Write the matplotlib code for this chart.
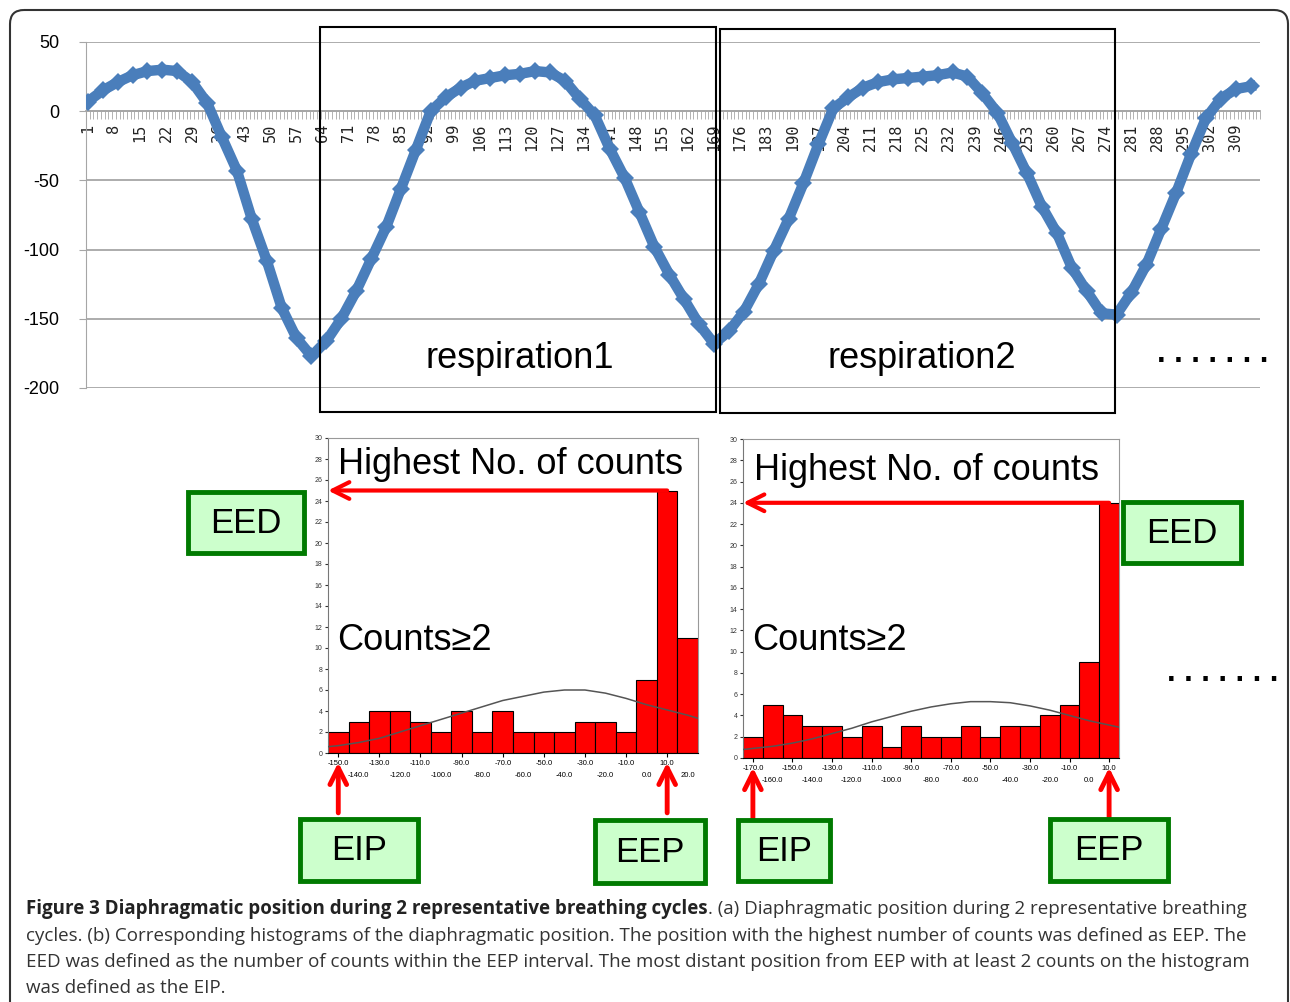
import matplotlib
matplotlib.use('Agg')
import matplotlib.pyplot as plt
import numpy as np
from matplotlib.patches import Rectangle, FancyBboxPatch

plt.rcParams['axes.unicode_minus'] = False
plt.rcParams['font.family'] = 'Liberation Sans'

W, H = 1290, 1002

# diaphragm position, read every 4th sample
samples = np.arange(1, 316, 4)
position = [7, 15, 21, 26, 29, 30, 29, 21, 6, -19,
            -43, -78, -108, -142, -164, -177, -166, -150, -130, -107,
            -84, -56, -28, 0, 10, 17, 22, 24, 26, 27,
            29, 28, 22, 9, -3, -27, -48, -73, -98, -118,
            -136, -154, -168, -159, -145, -125, -101, -78, -52, -24,
            2, 10, 17, 21, 23, 24, 25, 26, 28, 25,
            13, -1, -23, -45, -69, -88, -113, -130, -146, -147,
            -131, -111, -85, -59, -31, -5, 9, 16, 18]
n_samples = 315

# histograms
h1_centers = np.arange(-150, 30, 10)
h1_counts = [2, 3, 4, 4, 3, 2, 4, 2, 4, 2, 2, 2, 3, 3, 2, 7, 25, 11]
h1_curve_x = [-155, -150, -140, -130, -120, -110, -100, -90, -80, -70, -60,
              -50, -40, -30, -20, -10, 0, 10, 20, 25]
h1_curve_y = [0.6, 0.7, 1.0, 1.4, 2.0, 2.6, 3.2, 3.8, 4.4, 5.0, 5.4,
              5.8, 6.0, 6.0, 5.7, 5.2, 4.6, 4.1, 3.6, 3.3]

h2_centers = np.arange(-170, 20, 10)
h2_counts = [2, 5, 4, 3, 3, 2, 3, 1, 3, 2, 2, 3, 2, 3, 3, 4, 5, 9, 24]
h2_curve_x = [-175, -170, -160, -150, -140, -130, -120, -110, -100, -90, -80,
              -70, -60, -50, -40, -30, -20, -10, 0, 10, 15]
h2_curve_y = [0.8, 0.9, 1.1, 1.4, 1.8, 2.3, 2.8, 3.4, 3.9, 4.4, 4.8,
              5.1, 5.3, 5.3, 5.2, 4.9, 4.5, 4.0, 3.5, 3.1, 2.9]


def px_axes(l, t, r, b):
    return fig.add_axes([l / W, 1 - b / H, (r - l) / W, (b - t) / H])


fig = plt.figure(figsize=(W / 100, H / 100), dpi=100)

# ---- top chart
ax = px_axes(86, 42, 1260, 388)
ax.plot(samples, position, color='#4a7ebb', lw=7.5, marker='D', ms=9,
        markeredgewidth=0, zorder=3)
ax.set_xlim(0.5, n_samples + 0.5)
ax.set_ylim(-200, 50)
ax.set_yticks(range(-200, 51, 50))
ax.yaxis.grid(True, color='#a6a6a6', lw=1.3)
ax.set_axisbelow(True)
for s in ['top', 'right']:
    ax.spines[s].set_visible(False)
ax.spines['left'].set_color('#a6a6a6')
ax.spines['bottom'].set_position(('data', 0))
ax.spines['bottom'].set_color('#a6a6a6')
ax.spines['bottom'].set_linewidth(1.3)
ax.set_xticks(np.arange(1, n_samples + 1, 7))
ax.set_xticklabels([str(v) for v in np.arange(1, n_samples + 1, 7)],
                   rotation=90, family='DejaVu Sans Mono', fontsize=11)
ax.set_xticks(np.arange(0.5, n_samples + 1, 1), minor=True)
ax.tick_params(axis='x', which='major', length=0, pad=9, colors='#222')
ax.tick_params(axis='x', which='minor', length=6, color='#a6a6a6')
ax.tick_params(axis='y', length=5, color='#a6a6a6', labelsize=13, pad=14)


# ---- histograms
def histo(ax, centers, counts, cx, cy):
    ax.bar(centers, counts, width=10, color='#ff0000', edgecolor='black',
           lw=0.8, zorder=2)
    ax.plot(cx, cy, color='#555555', lw=1.1, zorder=3)
    ax.set_xlim(centers[0] - 5, centers[-1] + 5)
    ax.set_ylim(0, 30)
    ax.set_yticks(range(0, 31, 2))
    ax.tick_params(axis='y', labelsize=5, length=2, pad=2, colors='#333')
    ax.set_xticks(centers[::2])
    ax.set_xticklabels([f'{v:.1f}' for v in centers[::2]])
    ax.set_xticks(centers[1::2], minor=True)
    ax.set_xticklabels([f'{v:.1f}' for v in centers[1::2]], minor=True)
    ax.tick_params(axis='x', which='major', labelsize=5.5, length=3, pad=2)
    ax.tick_params(axis='x', which='minor', labelsize=5.5, length=0, pad=14)
    for s in ['top', 'right']:
        ax.spines[s].set_color('#999999')
    ax.spines['left'].set_color('#777777')
    i = int(np.argmax(counts))
    top = counts[i]
    ax.annotate('', xy=(centers[0] - 5, top), xytext=(centers[i], top),
                arrowprops=dict(arrowstyle='->', color='red', lw=3,
                                mutation_scale=30, shrinkA=0, shrinkB=0),
                annotation_clip=False, zorder=5)
    for x in (centers[0], centers[i]):
        ax.annotate('', xy=(x, -0.03), xycoords=('data', 'axes fraction'),
                    xytext=(x, -0.19), textcoords=('data', 'axes fraction'),
                    arrowprops=dict(arrowstyle='->', color='red', lw=3.5,
                                    mutation_scale=30, shrinkA=0, shrinkB=0),
                    annotation_clip=False)


h1 = px_axes(328, 438, 698, 753)
histo(h1, h1_centers, h1_counts, h1_curve_x, h1_curve_y)
h2 = px_axes(743, 439, 1119, 758)
histo(h2, h2_centers, h2_counts, h2_curve_x, h2_curve_y)

# ---- overlay in pixel coords
ov = fig.add_axes([0, 0, 1, 1])
ov.set_xlim(0, W)
ov.set_ylim(H, 0)
ov.axis('off')

ov.add_patch(FancyBboxPatch((10, 10), 1278, 1040,
                            boxstyle='round,pad=0,rounding_size=14',
                            fill=False, ec='#333333', lw=1.5, clip_on=False))
ov.add_patch(Rectangle((320, 27), 396, 385, fill=False, ec='black', lw=1.5))
ov.add_patch(Rectangle((720, 29), 395, 384, fill=False, ec='black', lw=1.5))
ov.text(520, 358, 'respiration1', fontsize=26, ha='center', va='center')
ov.text(922, 358, 'respiration2', fontsize=26, ha='center', va='center')
ov.text(1213, 354, '. . . . . . .', fontsize=22, weight='bold',
        ha='center', va='center')
ov.text(1223, 673, '. . . . . . .', fontsize=22, weight='bold',
        ha='center', va='center')

ov.text(510, 465, 'Highest No. of counts', fontsize=26, ha='center',
        va='center')
ov.text(927, 470, 'Highest No. of counts', fontsize=26, ha='center',
        va='center')
ov.text(337, 641, 'Counts≥2', fontsize=26, ha='left', va='center')
ov.text(752, 641, 'Counts≥2', fontsize=26, ha='left', va='center')

boxes = [((188, 492, 304, 553), 'EED'), ((1123, 502, 1241, 563), 'EED'),
         ((300, 819, 418, 881), 'EIP'), ((595, 820, 705, 883), 'EEP'),
         ((738, 820, 830, 881), 'EIP'), ((1050, 819, 1168, 881), 'EEP')]
for (l, t, r, b), lab in boxes:
    ov.add_patch(Rectangle((l, t), r - l, b - t, fc='#ccffcc', ec='#007a00',
                           lw=3.5))
    ov.text((l + r) / 2, (t + b) / 2 + 1, lab, fontsize=25, ha='center',
            va='center')

# ---- caption
cap_font = 'Open Sans'
cap_size = 13.5
renderer = fig.canvas.get_renderer()
t = fig.text(26 / W, 1 - 909 / H,
             'Figure 3 Diaphragmatic position during 2 representative breathing cycles',
             fontsize=cap_size, family=cap_font, weight='bold', va='center',
             color='#222')
bb = t.get_window_extent(renderer)
fig.text(bb.x1 / W, 1 - 909 / H,
         '. (a) Diaphragmatic position during 2 representative breathing',
         fontsize=cap_size, family=cap_font, va='center', color='#333')
lines = ['cycles. (b) Corresponding histograms of the diaphragmatic position. '
         'The position with the highest number of counts was defined as EEP. The',
         'EED was defined as the number of counts within the EEP interval. '
         'The most distant position from EEP with at least 2 counts on the histogram',
         'was defined as the EIP.']
for k, line in enumerate(lines):
    fig.text(26 / W, 1 - (936 + 26 * k) / H, line, fontsize=cap_size,
             family=cap_font, va='center', color='#333')

fig.savefig('out.png', dpi=100)
